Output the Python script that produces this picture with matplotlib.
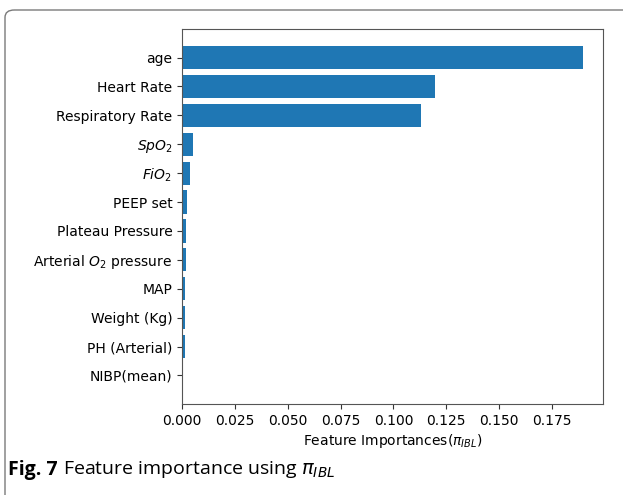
import matplotlib
matplotlib.use("Agg")
import matplotlib.pyplot as plt
from matplotlib.patches import FancyBboxPatch

features = [
    "age", "Heart Rate", "Respiratory Rate", r"$SpO_2$", r"$FiO_2$",
    "PEEP set", "Plateau Pressure", r"Arterial $O_2$ pressure", "MAP",
    "Weight (Kg)", "PH (Arterial)", "NIBP(mean)",
]
importances = [0.1896, 0.1197, 0.1131, 0.0054, 0.0039,
               0.0024, 0.0020, 0.0017, 0.0016, 0.0016, 0.0012, 0.0003]
xticks = [0.000, 0.025, 0.050, 0.075, 0.100, 0.125, 0.150, 0.175]

W, H = 623, 495
fig = plt.figure(figsize=(W / 100, H / 100), dpi=100)

# rounded figure frame, open at the right and bottom edges
frame = FancyBboxPatch((5 / W, -20 / H), (W + 20) / W, (H + 10) / H,
                       boxstyle="round,pad=0,rounding_size=0.015",
                       transform=fig.transFigure, fill=False,
                       edgecolor="#7a7a7a", linewidth=1.0, clip_on=False)
fig.patches.append(frame)

ax = fig.add_axes([182 / W, (H - 404) / H, (603 - 182) / W, (404 - 29) / H])
y = list(range(len(features)))
ax.barh(y, importances, color="#1f77b4", height=0.8)
ax.set_yticks(y)
ax.set_yticklabels(features, fontsize=10)
ax.invert_yaxis()
ax.set_xticks(xticks)
ax.set_xticklabels([f"{t:.3f}" for t in xticks], fontsize=10)
ax.set_xlabel(r"Feature Importances($\pi_{IBL}$)", fontsize=10, labelpad=3)
for s in ax.spines.values():
    s.set_color("#555555")
ax.tick_params(colors="#333333", labelcolor="black")

# caption
cy = 1 - 470 / H
t1 = fig.text(8 / W, cy, "Fig. 7", fontsize=14, fontweight="bold",
              family="Open Sans", va="center", ha="left")
fig.canvas.draw()
bb = t1.get_window_extent()
fig.text(bb.x1 / W + 5 / W, cy, r"Feature importance using $\pi_{IBL}$",
         fontsize=14, family="Open Sans", va="center", ha="left")

fig.savefig("out.png", dpi=100)
